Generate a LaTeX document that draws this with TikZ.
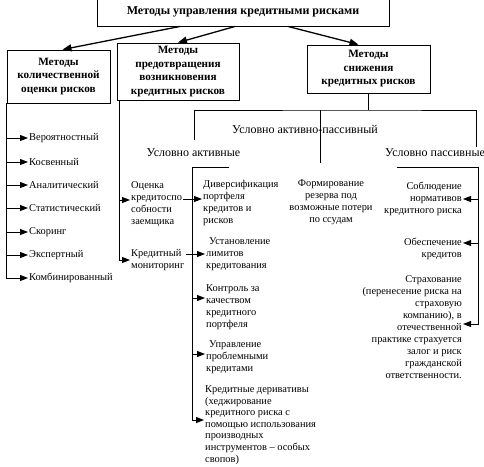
\documentclass[tikz,border=0pt]{standalone}
\usepackage{fontspec}
\setmainfont{Liberation Serif}
\usetikzlibrary{arrows.meta}

\begin{document}
\begin{tikzpicture}[x=1pt,y=-1pt,
  box/.style={draw, rectangle, line width=0.9pt, align=center,
    font=\fontsize{11.2}{13.5}\selectfont\bfseries, inner sep=1pt},
  item/.style={inner sep=1pt, font=\fontsize{10.4}{12}\selectfont},
  group/.style={inner sep=1pt, font=\fontsize{12}{14}\selectfont},
  line/.style={line width=0.8pt},
  arr/.style={line width=0.9pt, -{Triangle[length=8pt,width=6pt]}},
  bigarr/.style={line width=1.3pt, -{Triangle[length=9pt,width=7pt]}}]
\useasboundingbox (0,0) rectangle (484,466);

\node[box, minimum width=292pt, minimum height=29pt, font=\fontsize{12}{14}\selectfont\bfseries]
  (M) at (243,11.5) {Методы управления кредитными рисками};
\node[box, minimum width=103pt, minimum height=53pt] (Q) at (58.5,76.5)
  {Методы\\количественной\\оценки рисков};
\node[box, minimum width=122pt, minimum height=57pt] (P) at (178,71.5)
  {Методы\\предотвращения\\возникновения\\кредитных рисков};
\node[box, minimum width=123pt, minimum height=48pt] (S) at (368.5,69)
  {Методы\\снижения\\кредитных рисков};
\draw[bigarr] ([xshift=-63pt]M.south) -- ([xshift=4pt]Q.north);
\draw[bigarr] ([xshift=-8pt]M.south) -- (P.north);
\draw[bigarr] ([xshift=45pt]M.south) -- ([xshift=-10pt]S.north);

% methods of quantitative estimation
\node[item, anchor=west] (q1) at (28,138) {Вероятностный};
\node[item, anchor=west] (q2) at (28,162) {Косвенный};
\node[item, anchor=west] (q3) at (28,185) {Аналитический};
\node[item, anchor=west] (q4) at (28,208) {Статистический};
\node[item, anchor=west] (q5) at (28,232) {Скоринг};
\node[item, anchor=west] (q6) at (28,255) {Экспертный};
\node[item, anchor=west] (q7) at (28,278) {Комбинированный};
\draw[arr] (Q.south west) |- (q7.west);
\draw[arr] (Q.south west |- q1.west) -- (q1.west);
\draw[arr] (Q.south west |- q2.west) -- (q2.west);
\draw[arr] (Q.south west |- q3.west) -- (q3.west);
\draw[arr] (Q.south west |- q4.west) -- (q4.west);
\draw[arr] (Q.south west |- q5.west) -- (q5.west);
\draw[arr] (Q.south west |- q6.west) -- (q6.west);

% methods of prevention
\coordinate (p0) at ([xshift=3pt]P.south west);
\node[item, anchor=west, align=left] (oc) at (130,204)
  {Оценка\\кредитоспо\\собности\\заемщика};
\node[item, anchor=west, align=left] (km) at (130,260)
  {Кредитный\\мониторинг};
\coordinate (oc1) at ([yshift=4pt]oc.west);
\draw[arr] (p0) |- (km.west);
\draw[arr] (p0 |- oc1) -- (oc1);

% methods of reduction
\node[group] (uap) at (305,129) {Условно активно-пассивный};
\node[group] (ua) at (193.5,153) {Условно активные};
\node[group, anchor=west] (up) at (384,153) {Условно пассивные};
\coordinate (h) at (S.south |- 0,110);
\coordinate (hl) at (194,140);
\coordinate (hm) at (320,163);
\coordinate (hr) at (476,147);
\draw[line] (S.south) -- (h);
\draw[line] (hl) |- (h) -| (hr);
\draw[line] (h -| hm) -- (hm);

% conditionally active
\coordinate (a0) at (192,167);
\coordinate (a1) at (229,167);
\coordinate (a2) at (183,167);
\node[item, anchor=west, align=left] (dv) at (202,203)
  {Диверсификация\\портфеля\\кредитов и\\рисков};
\node[item, anchor=west, align=left] (us) at (205,254)
  {\hspace*{3pt}Установление\\лимитов\\кредитования};
\node[item, anchor=west, align=left] (kk) at (205,307)
  {Контроль за\\качеством\\кредитного\\портфеля};
\node[item, anchor=west, align=left] (pk) at (205,357)
  {\hspace*{3pt}Управление\\проблемными\\кредитами};
\node[item, anchor=west, align=left, font=\fontsize{10.4}{11.6}\selectfont] (kd) at (204,425)
  {Кредитные деривативы\\(хеджирование\\кредитного риска с\\помощью использования\\производных\\инструментов – особых\\свопов)};
\coordinate (dv1) at ([yshift=4pt]dv.west);
\coordinate (kk1) at ([yshift=9pt]kk.west);
\coordinate (pk1) at ([yshift=3pt]pk.west);
\draw[arr] (a1) -- (a0) |- ([yshift=5pt]kd.west);
\draw[arr] (a2 |- dv1) -- (dv1);
\draw[arr] ([xshift=3pt]a2 |- us.west) -- (us.west);
\draw[arr] (a0 |- kk1) -- (kk1);
\draw[arr] (a0 |- pk1) -- (pk1);

% middle
\node[item, align=center] (fr) at (331,202)
  {Формирование\\резерва под\\возможные потери\\по ссудам};

% conditionally passive
\coordinate (r0) at (478,167);
\coordinate (r1) at (397,167);
\node[item, anchor=east, align=right] (sb) at (463,199)
  {Соблюдение\\нормативов\\кредитного риска};
\node[item, anchor=east, align=right] (ob) at (463,249)
  {Обеспечение\\кредитов};
\node[item, anchor=east, align=right] (st) at (463,327)
  {Страхование\\(перенесение риска на\\страховую\\компанию), в\\отечественной\\практике страхуется\\залог и риск\\гражданской\\ответственности.};
\coordinate (ob1) at ([yshift=6pt]ob.east);
\draw[arr] (r1) -- (r0) |- ([yshift=3pt]st.east);
\draw[arr] (r0 |- sb.east) -- (sb.east);
\draw[arr] (r0 |- ob1) -- (ob1);
\end{tikzpicture}
\end{document}
